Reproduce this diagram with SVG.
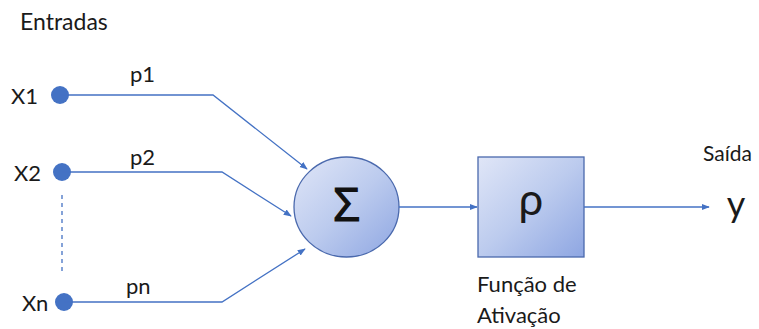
<svg xmlns="http://www.w3.org/2000/svg" width="759" height="329" viewBox="0 0 759 329">
  <defs>
    <linearGradient id="nodeFill" x1="0" y1="0" x2="1" y2="1">
      <stop offset="0" stop-color="#e0e6f7"/>
      <stop offset="0.5" stop-color="#bccbee"/>
      <stop offset="1" stop-color="#8ea6e2"/>
    </linearGradient>
    <marker id="arrow" viewBox="0 0 10 10" refX="9" refY="5" markerWidth="8" markerHeight="8" markerUnits="userSpaceOnUse" orient="auto">
      <path d="M0,1 L10,5 L0,9 Z" fill="#4472c4"/>
    </marker>
    <style>
      .lbl { font-family: Lato, "Open Sans", sans-serif; fill: #1a1a1a; font-size: 22px; }
      .sym { font-family: "Open Sans", Lato, sans-serif; fill: #111111; stroke: #111111; stroke-width: 1.2; }
      .wire { fill: none; stroke: #4472c4; stroke-width: 1.3; marker-end: url(#arrow); }
      .dot { fill: #4472c4; }
      .shape { fill: url(#nodeFill); stroke: #4a69ad; stroke-width: 1.3; }
    </style>
  </defs>
  <rect width="759" height="329" fill="#ffffff"/>

  <text class="lbl" x="20" y="30" style="font-size:23px">Entradas</text>

  <g id="x1">
    <circle class="dot" cx="60" cy="95" r="9"/>
    <text class="lbl" x="11" y="104">X1</text>
  </g>
  <g id="x2">
    <circle class="dot" cx="62" cy="172" r="9"/>
    <text class="lbl" x="14" y="181">X2</text>
  </g>
  <g id="xn">
    <circle class="dot" cx="64" cy="302" r="9"/>
    <text class="lbl" x="22" y="311">Xn</text>
  </g>

  <g id="sum">
    <ellipse class="shape" cx="346.5" cy="207" rx="52.5" ry="50"/>
    <text class="sym" x="346.5" y="221" style="font-size:46px" text-anchor="middle">Σ</text>
  </g>

  <g id="activation">
    <rect class="shape" x="478" y="157" width="106" height="100"/>
    <text class="lbl" x="531" y="215" style="font-size:44px" text-anchor="middle">ρ</text>
    <text class="lbl" x="477" y="292">Função de</text>
    <text class="lbl" x="477" y="323">Ativação</text>
  </g>

  <g id="output">
    <text class="lbl" x="703" y="161" style="font-size:21px">Saída</text>
    <text class="lbl" x="736" y="217" style="font-size:36px" text-anchor="middle">y</text>
  </g>

  <g id="connectors">
    <path class="wire" d="M60,95 H213 L307,169"/>
    <path class="wire" d="M62,172 H222 L291,216"/>
    <path class="wire" d="M64,302 H222 L305,249"/>
    <path class="wire" d="M399,207 H477"/>
    <path class="wire" d="M584,207 H709"/>
    <line x1="62" y1="195" x2="62" y2="272" stroke="#4472c4" stroke-width="1.3" stroke-dasharray="4,4"/>
    <text class="lbl" x="130" y="82">p1</text>
    <text class="lbl" x="130" y="165">p2</text>
    <text class="lbl" x="126" y="294">pn</text>
  </g>
</svg>
